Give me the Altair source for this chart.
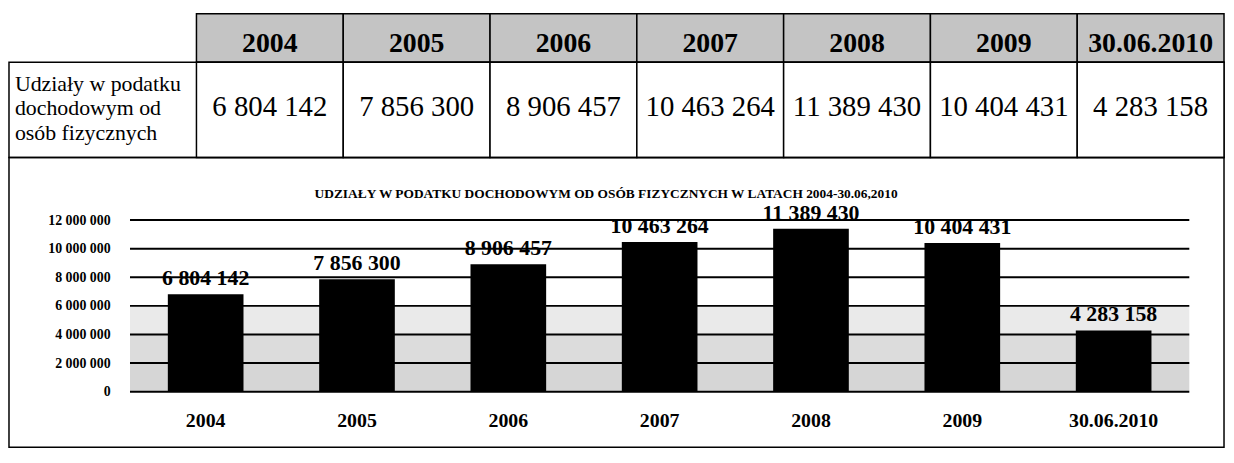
import altair as alt
import pandas as pd

# ---- data ----
categories = ["2004", "2005", "2006", "2007", "2008", "2009", "30.06.2010"]
values = [6804142, 7856300, 8906457, 10463264, 11389430, 10404431, 4283158]
y_ticks = [0, 2000000, 4000000, 6000000, 8000000, 10000000, 12000000]
shade_lo = [0, 2000000, 4000000]
shade_hi = [2000000, 4000000, 6000000]
shade_key = ["low", "mid", "high"]
row_label_lines = ["Udziały w podatku", "dochodowym od", "osób fizycznych"]
chart_title = "UDZIAŁY W PODATKU DOCHODOWYM OD OSÓB FIZYCZNYCH W LATACH 2004-30.06,2010"

SERIF = "Liberation Serif"
TABLE_W = 1225


def fmt(v):
    return f"{v:,}".replace(",", " ")


df = pd.DataFrame({"cat": categories, "value": values,
                   "label": [fmt(v) for v in values]})
df_ticks = pd.DataFrame({"tick": y_ticks})
df_shade = pd.DataFrame({"lo": shade_lo, "hi": shade_hi, "band": shade_key})
df_rowlabel = pd.DataFrame({"t": ["\n".join(row_label_lines)]})
df_title = pd.DataFrame({"t": [chart_title]})

# ---- table ----
xcell = alt.X("cat:N", sort=categories, axis=None,
              scale=alt.Scale(range=[189, TABLE_W], paddingInner=0, paddingOuter=0))

header = alt.layer(
    alt.Chart(df).mark_rect(fill="#c4c4c4", stroke="black", strokeWidth=1.5).encode(x=xcell),
    alt.Chart(df).mark_text(font=SERIF, fontSize=28, fontWeight="bold", dy=6,
                            color="black").encode(x=xcell, text="cat:N"),
).properties(width=TABLE_W, height=49, view=alt.ViewBackground(stroke="transparent"))

value_row = alt.layer(
    alt.Chart(df).mark_rect(fill="white", stroke="black", strokeWidth=1.5).encode(x=xcell),
    alt.Chart(df).mark_text(font=SERIF, fontSize=29, dy=-3, color="black").encode(
        x=xcell, text="label:N"),
    alt.Chart(df_rowlabel).mark_text(
        font=SERIF, fontSize=22, align="left", baseline="middle", lineBreak="\n",
        lineHeight=24.5, color="black"
    ).encode(text="t:N", x=alt.value(6), y=alt.value(22)),
).properties(width=TABLE_W, height=96)

# ---- bar chart ----
xscale = alt.Scale(range=[122, 1190], paddingInner=0.5, paddingOuter=0.25)
xaxis = alt.Axis(orient="bottom", offset=-27, domain=False, ticks=False, tickSize=0,
                 labelPadding=0, labelBaseline="middle", labelFont=SERIF,
                 labelFontSize=20, labelFontWeight="bold", labelColor="black",
                 labelAngle=0, grid=False)
yscale = alt.Scale(domain=[0, 12000000], range=[236, 63], nice=False, zero=True)
yaxis = alt.Axis(values=y_ticks, offset=-102, domain=False, ticks=False, tickSize=0,
                 labelPadding=0, labelFont=SERIF, labelFontSize=14,
                 labelFontWeight="bold", labelColor="black", grid=False,
                 labelExpr="replace(format(datum.value, ',d'), /,/g, ' ')")


def yenc(field):
    return alt.Y(field, title=None, scale=yscale, axis=yaxis)


def xenc():
    return alt.X("cat:N", sort=categories, title=None, scale=xscale, axis=xaxis)


shade = alt.Chart(df_shade).mark_rect().encode(
    y=yenc("lo:Q"), y2="hi:Q", x=alt.value(122), x2=alt.value(1190),
    color=alt.Color("band:N", legend=None,
                    scale=alt.Scale(domain=shade_key,
                                    range=["#d6d6d6", "#dcdcdc", "#eaeaea"])))

grid = alt.Chart(df_ticks).mark_rule(color="black", strokeWidth=2).encode(
    y=yenc("tick:Q"), x=alt.value(122), x2=alt.value(1190))

bars = alt.Chart(df).mark_bar(color="black").encode(x=xenc(), y=yenc("value:Q"))

labels = alt.Chart(df).mark_text(font=SERIF, fontSize=22, fontWeight="bold",
                                 baseline="middle", dy=-16, color="black").encode(
    x=xenc(), y=yenc("value:Q"), text="label:N")

title = alt.Chart(df_title).mark_text(font=SERIF, fontSize=13.5, fontWeight="bold",
                                      color="black").encode(
    text="t:N", x=alt.value(602), y=alt.value(37))

bar_chart = alt.layer(shade, grid, bars, labels, title).properties(width=TABLE_W, height=292)

chart = alt.vconcat(
    header,
    value_row,
    bar_chart,
    spacing=0,
    bounds="flush",
).resolve_scale(x="independent", y="independent", color="independent").properties(
    padding={"left": 0, "top": 2, "right": 0, "bottom": 0}
).configure(font=SERIF).configure_text(font=SERIF).configure_view(
    stroke="black", strokeWidth=1.5).configure_concat(spacing=0)

chart.save("out.html", embed_options={"renderer": "svg", "actions": False})
